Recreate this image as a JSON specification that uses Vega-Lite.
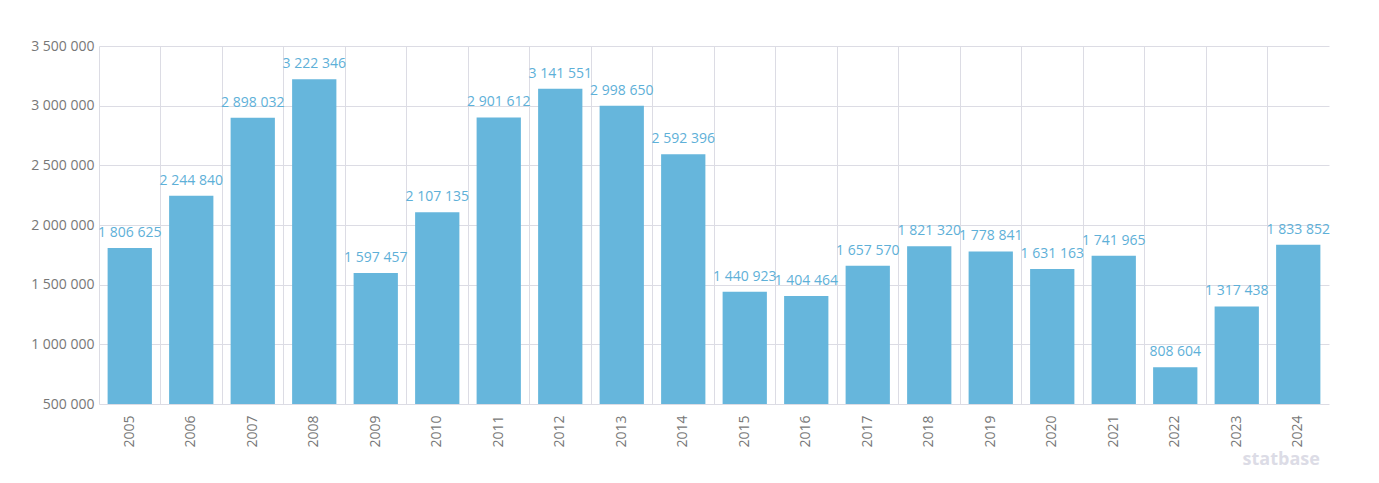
{
  "$schema": "https://vega.github.io/schema/vega-lite/v6.json",
  "autosize": "none",
  "width": 1230,
  "height": 358,
  "padding": {"left": 99, "top": 46, "right": 50, "bottom": 79},
  "background": "white",
  "config": {
    "locale": {
      "number": {"decimal": ",", "thousands": " ", "grouping": [3], "currency": ["", ""]}
    },
    "view": {"stroke": null},
    "font": "Open Sans",
    "axis": {
      "labelFont": "Open Sans",
      "labelColor": "#777777",
      "gridColor": "#dcdce4",
      "gridWidth": 1,
      "domain": false,
      "ticks": false
    }
  },
  "title": {
    "text": "statbase",
    "orient": "bottom",
    "anchor": "end",
    "color": "#dcdce6",
    "fontSize": 18,
    "fontWeight": "bold",
    "font": "Open Sans",
    "offset": 4,
    "dx": -10
  },
  "data": {
    "values": [
      {"year": "2005", "value": 1806625},
      {"year": "2006", "value": 2244840},
      {"year": "2007", "value": 2898032},
      {"year": "2008", "value": 3222346},
      {"year": "2009", "value": 1597457},
      {"year": "2010", "value": 2107135},
      {"year": "2011", "value": 2901612},
      {"year": "2012", "value": 3141551},
      {"year": "2013", "value": 2998650},
      {"year": "2014", "value": 2592396},
      {"year": "2015", "value": 1440923},
      {"year": "2016", "value": 1404464},
      {"year": "2017", "value": 1657570},
      {"year": "2018", "value": 1821320},
      {"year": "2019", "value": 1778841},
      {"year": "2020", "value": 1631163},
      {"year": "2021", "value": 1741965},
      {"year": "2022", "value": 808604},
      {"year": "2023", "value": 1317438},
      {"year": "2024", "value": 1833852}
    ]
  },
  "encoding": {
    "x": {
      "field": "year",
      "type": "ordinal",
      "scale": {"paddingInner": 0, "paddingOuter": 0},
      "axis": {
        "title": null,
        "labelAngle": -90,
        "labelFontSize": 14,
        "labelPadding": 11,
        "bandPosition": 0,
        "grid": true,
        "labelAlign": "right",
        "labelBaseline": "middle"
      }
    }
  },
  "layer": [
    {
      "mark": {"type": "bar", "color": "#66b6dc", "width": {"band": 0.72}},
      "encoding": {
        "y": {
          "field": "value",
          "type": "quantitative",
          "scale": {"domain": [500000, 3500000], "zero": false, "nice": false},
          "axis": {
            "title": null,
            "values": [500000, 1000000, 1500000, 2000000, 2500000, 3000000, 3500000],
            "format": ",d",
            "labelFontSize": 14,
            "labelPadding": 5,
            "grid": true
          }
        },
        "y2": {"datum": 500000}
      }
    },
    {
      "mark": {"type": "text", "color": "#5eb0d8", "fontSize": 14, "dy": -8, "baseline": "bottom", "align": "center"},
      "encoding": {
        "y": {"field": "value", "type": "quantitative"},
        "text": {"field": "value", "type": "quantitative", "format": ",d"}
      }
    }
  ]
}
